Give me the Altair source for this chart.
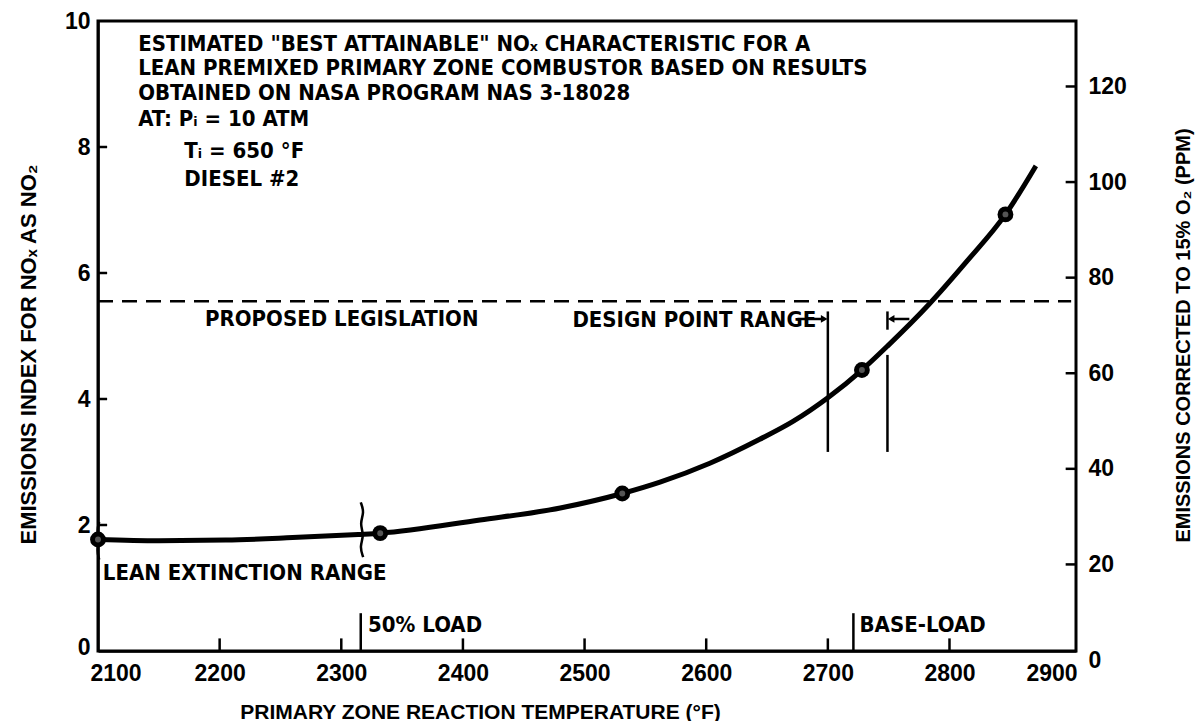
import altair as alt
import pandas as pd

# ---------------- data ----------------
# main NOx curve (temperature degF, emissions index)
curve_temp = [2100, 2150, 2205, 2260, 2314, 2332, 2414, 2480, 2531, 2562,
              2603, 2644, 2671, 2700, 2728, 2749, 2783, 2814, 2846, 2871]
curve_ei = [1.77, 1.75, 1.76, 1.80, 1.85, 1.87, 2.08, 2.27, 2.50, 2.68,
            2.98, 3.36, 3.64, 4.02, 4.46, 4.84, 5.50, 6.18, 6.93, 7.70]

# measured points
point_temp = [2100, 2332, 2531, 2728, 2846]
point_ei = [1.77, 1.87, 2.50, 4.46, 6.93]

# proposed legislation level (EI)
legislation_ei = 5.55

# axis values
x_values = [2100, 2200, 2300, 2400, 2500, 2600, 2700, 2800, 2900]
x_tick_marks = [2200, 2300, 2400, 2500, 2600, 2700, 2800]
ei_values = [0, 2, 4, 6, 8, 10]
ei_tick_marks = [2, 4, 6, 8]
ppm_values = [0, 20, 40, 60, 80, 100, 120]
ppm_tick_marks = [20, 40, 60, 80, 100, 120]

# load lines and design-point range
load_temp = [2316, 2721]
load_top = 0.6
design_temp = [2700, 2749]
design_low, design_high = 3.16, 5.39
design_gap = (4.70, 5.10)  # gap in the right design line where the curve crosses

# wavy range markers
wave_left_t = [2101, 2099, 2101, 2099, 2101]
wave_left_v = [2.05, 1.90, 1.75, 1.60, 1.45]
wave_mid_t = [2316, 2319, 2315, 2319, 2315, 2318]
wave_mid_v = [2.36, 2.20, 2.02, 1.84, 1.66, 1.49]

# annotation texts: (text, temp, ei)
notes_text = [
    'ESTIMATED "BEST ATTAINABLE" NOₓ CHARACTERISTIC FOR A',
    'LEAN PREMIXED PRIMARY ZONE COMBUSTOR BASED ON RESULTS',
    'OBTAINED ON NASA PROGRAM  NAS 3-18028',
    'AT: Pᵢ = 10 ATM',
    'Tᵢ = 650 °F',
    'DIESEL #2',
    'PROPOSED LEGISLATION',
    'DESIGN POINT RANGE',
    'LEAN EXTINCTION RANGE',
    '50% LOAD',
    'BASE-LOAD',
]
notes_t = [2133, 2133, 2133, 2133, 2171, 2171, 2188, 2490, 2104, 2322, 2726]
notes_v = [9.64, 9.25, 8.85, 8.44, 7.93, 7.50, 5.27, 5.25, 1.24, 0.41, 0.41]

# arrows next to DESIGN POINT RANGE
arrow_from = [2675, 2767]
arrow_to = [2697, 2752]
arrow_v = 5.27

# right axis: ppm at the bottom and top edges of the plot
ppm_zero_offset_px = 9   # right-axis zero sits slightly below the x axis
ppm_top = 133.7

# ---------------- build tables ----------------
curve_df = pd.DataFrame({"t": curve_temp, "v": curve_ei})
pts_df = pd.DataFrame({"t": point_temp, "v": point_ei})
leg_df = pd.DataFrame({"t": [x_values[0]], "t2": [x_values[-1]],
                       "v": [legislation_ei]})

segs = []
for t in x_tick_marks:
    segs.append({"t": t, "t2": t, "v": 0, "v2": 0.2})
for v in ei_tick_marks:
    segs.append({"t": 2100, "t2": 2107.5, "v": v, "v2": v})
for t in load_temp:
    segs.append({"t": t, "t2": t, "v": 0, "v2": load_top})
segs.append({"t": design_temp[0], "t2": design_temp[0], "v": design_low, "v2": design_high})
segs.append({"t": design_temp[1], "t2": design_temp[1], "v": design_low, "v2": design_gap[0]})
segs.append({"t": design_temp[1], "t2": design_temp[1], "v": design_gap[1], "v2": design_high})
for a, b in zip(arrow_from, arrow_to):
    segs.append({"t": a, "t2": b, "v": arrow_v, "v2": arrow_v})
segs_df = pd.DataFrame(segs)

arrow_r_df = pd.DataFrame({"t": [arrow_to[0]], "v": [arrow_v]})
arrow_l_df = pd.DataFrame({"t": [arrow_to[1]], "v": [arrow_v]})

wave_df = pd.DataFrame({
    "t": wave_left_t + wave_mid_t,
    "v": wave_left_v + wave_mid_v,
    "g": ["a"] * len(wave_left_t) + ["b"] * len(wave_mid_t),
    "o": list(range(len(wave_left_t))) + list(range(len(wave_mid_t))),
})

notes_df = pd.DataFrame({"t": notes_t, "v": notes_v, "txt": notes_text})
rticks_df = pd.DataFrame({"t": [2895.5] * len(ppm_tick_marks),
                          "t2": [2904] * len(ppm_tick_marks),
                          "p": ppm_tick_marks})

# ---------------- scales and axes ----------------
W, H = 978, 630
FONT = "Liberation Sans"
NARROW = "Liberation Sans Narrow, DejaVu Sans Condensed, Liberation Sans"

xs = alt.Scale(domain=[2100, 2904], nice=False, zero=False)
ys = alt.Scale(domain=[0, 10], nice=False, zero=False)
ys_r = alt.Scale(domain=[0, ppm_top], range=[H + ppm_zero_offset_px, 0],
                 nice=False, zero=False)

first_x, last_x = x_values[0], x_values[-1]
x_label_align = {
    "condition": [
        {"test": f"datum.value <= {first_x}", "value": "left"},
        {"test": f"datum.value >= {last_x}", "value": "right"},
    ],
    "value": "center",
}
x_label_offset = {
    "condition": [
        {"test": f"datum.value <= {first_x}", "value": -8},
        {"test": f"datum.value >= {last_x}", "value": 6},
    ],
    "value": 0,
}
y_label_offset = {"condition": {"test": "datum.value == 0", "value": -4},
                  "value": 0}

x_axis = alt.Axis(values=x_values, format="d", ticks=False, grid=False,
                  labelPadding=11, labelFont=FONT, labelFontSize=23,
                  labelFontWeight="bold", labelColor="black",
                  labelAlign=x_label_align, labelOffset=x_label_offset,
                  domainColor="black", domainWidth=2.5,
                  title="PRIMARY ZONE REACTION TEMPERATURE (°F)",
                  titleFont=FONT, titleFontSize=21, titleFontWeight="bold",
                  titleColor="black", titleX=382, titleY=61,
                  titleAlign="center", titleBaseline="middle")
y_axis = alt.Axis(values=ei_values, format="d", ticks=False, grid=False,
                  labelPadding=8, labelFont=FONT, labelFontSize=23,
                  labelFontWeight="bold", labelColor="black",
                  labelOffset=y_label_offset,
                  domainColor="black", domainWidth=2.5,
                  title="EMISSIONS INDEX FOR NOₓ AS NO₂",
                  titleFont=FONT, titleFontSize=22, titleFontWeight="bold",
                  titleColor="black", titleX=-70, titleY=333, titleAngle=270,
                  titleAlign="center", titleBaseline="middle")
yr_axis = alt.Axis(orient="right", values=ppm_values, format="d", ticks=False,
                   grid=False, domain=False, labelPadding=12, labelFont=FONT,
                   labelFontSize=23, labelFontWeight="bold", labelColor="black",
                   title="EMISSIONS CORRECTED TO 15% O₂ (PPM)",
                   titleFont=FONT, titleFontSize=20, titleFontWeight="bold",
                   titleColor="black", titleX=107, titleY=314, titleAngle=270,
                   titleAlign="center", titleBaseline="middle")

X = alt.X("t:Q", scale=xs, axis=x_axis)
Y = alt.Y("v:Q", scale=ys, axis=y_axis)

curve = alt.Chart(curve_df).mark_line(color="black", strokeWidth=5,
                                      interpolate="monotone").encode(x=X, y=Y)
points = alt.Chart(pts_df).mark_point(shape="circle", size=250, filled=True,
                                      color="black", opacity=1).encode(x=X, y=Y)
points_ring = alt.Chart(pts_df).mark_point(shape="circle", size=35, filled=True,
                                           color="#555555", opacity=1).encode(x=X, y=Y)
legislation = alt.Chart(leg_df).mark_rule(color="black", strokeWidth=2.5,
                                          strokeDash=[15, 9]).encode(
    x=X, x2=alt.X2("t2:Q"), y=Y)
rules = alt.Chart(segs_df).mark_rule(color="black", strokeWidth=2.5).encode(
    x=X, x2=alt.X2("t2:Q"), y=Y, y2=alt.Y2("v2:Q"))
arrow_r = alt.Chart(arrow_r_df).mark_point(shape="triangle-right", size=60,
                                           filled=True, color="black",
                                           opacity=1).encode(x=X, y=Y)
arrow_l = alt.Chart(arrow_l_df).mark_point(shape="triangle-left", size=60,
                                           filled=True, color="black",
                                           opacity=1).encode(x=X, y=Y)
waves = alt.Chart(wave_df).mark_line(color="black", strokeWidth=2.5,
                                     interpolate="basis").encode(
    x=X, y=Y, detail="g:N", order="o:Q")
notes = alt.Chart(notes_df).mark_text(align="left", baseline="middle",
                                      font=NARROW, fontSize=22,
                                      fontWeight="bold", color="black").encode(
    x=X, y=Y, text="txt:N")

left = alt.layer(legislation, rules, waves, curve, points, points_ring,
                 arrow_r, arrow_l, notes)

right = alt.Chart(rticks_df).mark_rule(color="black", strokeWidth=2.5).encode(
    x=alt.X("t:Q", scale=xs, axis=x_axis),
    x2=alt.X2("t2:Q"),
    y=alt.Y("p:Q", scale=ys_r, axis=yr_axis))

chart = alt.layer(left, right).resolve_scale(y="independent").properties(
    width=W, height=H,
    autosize=alt.AutoSizeParams(type="none"),
    padding={"left": 98, "top": 21, "right": 125, "bottom": 70},
    background="white",
).configure_view(stroke="black", strokeWidth=3)

chart.save("out.html", embed_options={"renderer": "svg", "actions": False})
